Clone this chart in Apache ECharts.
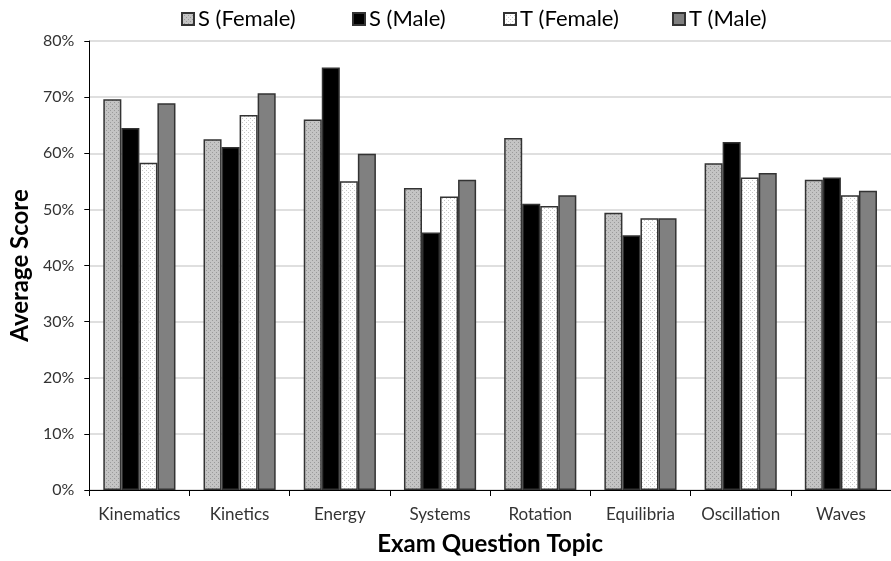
<!DOCTYPE html>
<html>
<head>
<meta charset="utf-8">
<script src="https://cdn.jsdelivr.net/npm/echarts@6/dist/echarts.min.js"></script>
<style>
  html, body { margin: 0; padding: 0; background: #ffffff; }
  #chart { width: 891px; height: 561px; }
</style>
</head>
<body>
<div id="chart"></div>
<script>
// Exam topics and average scores (percent) for each student group
const topics = ['Kinematics', 'Kinetics', 'Energy', 'Systems', 'Rotation', 'Equilibria', 'Oscillation', 'Waves'];
const sFemale = [69.6, 62.5, 66.0, 53.8, 62.7, 49.4, 58.2, 55.3];
const sMale   = [64.5, 61.1, 75.3, 45.9, 51.0, 45.4, 62.0, 55.7];
const tFemale = [58.3, 66.8, 55.0, 52.3, 50.6, 48.4, 55.7, 52.5];
const tMale   = [68.9, 70.7, 59.9, 55.3, 52.5, 48.4, 56.5, 53.3];
const yTicks  = [0, 10, 20, 30, 40, 50, 60, 70, 80];

const FONT = 'Lato, "Noto Sans", sans-serif';

// Small dotted fill patterns drawn on a canvas
function dotPattern(bg, dot) {
  const c = document.createElement('canvas');
  c.width = 4; c.height = 4;
  const g = c.getContext('2d');
  g.fillStyle = bg; g.fillRect(0, 0, 4, 4);
  g.fillStyle = dot;
  g.fillRect(0, 0, 1, 1);
  g.fillRect(2, 2, 1, 1);
  return { image: c, repeat: 'repeat' };
}

const groups = [
  { name: 'S (Female)', data: sFemale, color: dotPattern('#c4c4c4', '#9a9a9a') },
  { name: 'S (Male)',   data: sMale,   color: '#000000' },
  { name: 'T (Female)', data: tFemale, color: dotPattern('#ffffff', '#c8c8c8') },
  { name: 'T (Male)',   data: tMale,   color: '#808080' }
];

const legendLeft = [181, 352, 503, 672];

const chart = echarts.init(document.getElementById('chart'), null, { renderer: 'canvas' });

chart.setOption({
  animation: false,
  backgroundColor: '#ffffff',
  textStyle: { fontFamily: FONT },
  legend: groups.map((g, i) => ({
    data: [g.name],
    top: 8,
    left: legendLeft[i],
    padding: 0,
    itemWidth: 12,
    itemHeight: 12,
    itemGap: 4,
    icon: 'rect',
    textStyle: { fontFamily: FONT, fontSize: 22, color: '#000000', padding: [0, 0, 0, -1] }
  })),
  grid: { left: 87, top: 41, bottom: 68, right: -12 },
  xAxis: {
    type: 'category',
    data: topics,
    name: 'Exam Question Topic',
    nameLocation: 'middle',
    nameGap: 42,
    nameTextStyle: { fontFamily: FONT, fontSize: 24, fontWeight: 'bold', color: '#000000' },
    axisLine: { lineStyle: { color: '#000000', width: 1 } },
    axisTick: { show: true, interval: 0, length: 6, lineStyle: { color: '#000000' } },
    axisLabel: { interval: 0, fontFamily: FONT, fontSize: 17, color: '#333333', margin: 16 }
  },
  yAxis: {
    type: 'value',
    min: yTicks[0],
    max: yTicks[yTicks.length - 1],
    interval: 10,
    name: 'Average Score',
    nameLocation: 'middle',
    nameGap: 55,
    nameTextStyle: { fontFamily: FONT, fontSize: 24, fontWeight: 'bold', color: '#000000' },
    axisLine: { show: true, lineStyle: { color: '#000000', width: 1 } },
    axisTick: { show: true, length: 5, lineStyle: { color: '#000000' } },
    axisLabel: { fontFamily: FONT, fontSize: 16, color: '#333333', margin: 15, formatter: v => v + '%' },
    splitLine: { lineStyle: { color: '#d4d4d4', width: 1.5 } }
  },
  series: groups.map(g => ({
    name: g.name,
    type: 'bar',
    data: g.data,
    barGap: '0%',
    barCategoryGap: '28%',
    itemStyle: { color: g.color, borderColor: '#333333', borderWidth: 1.5 },
    emphasis: { disabled: true }
  }))
});
</script>
</body>
</html>
